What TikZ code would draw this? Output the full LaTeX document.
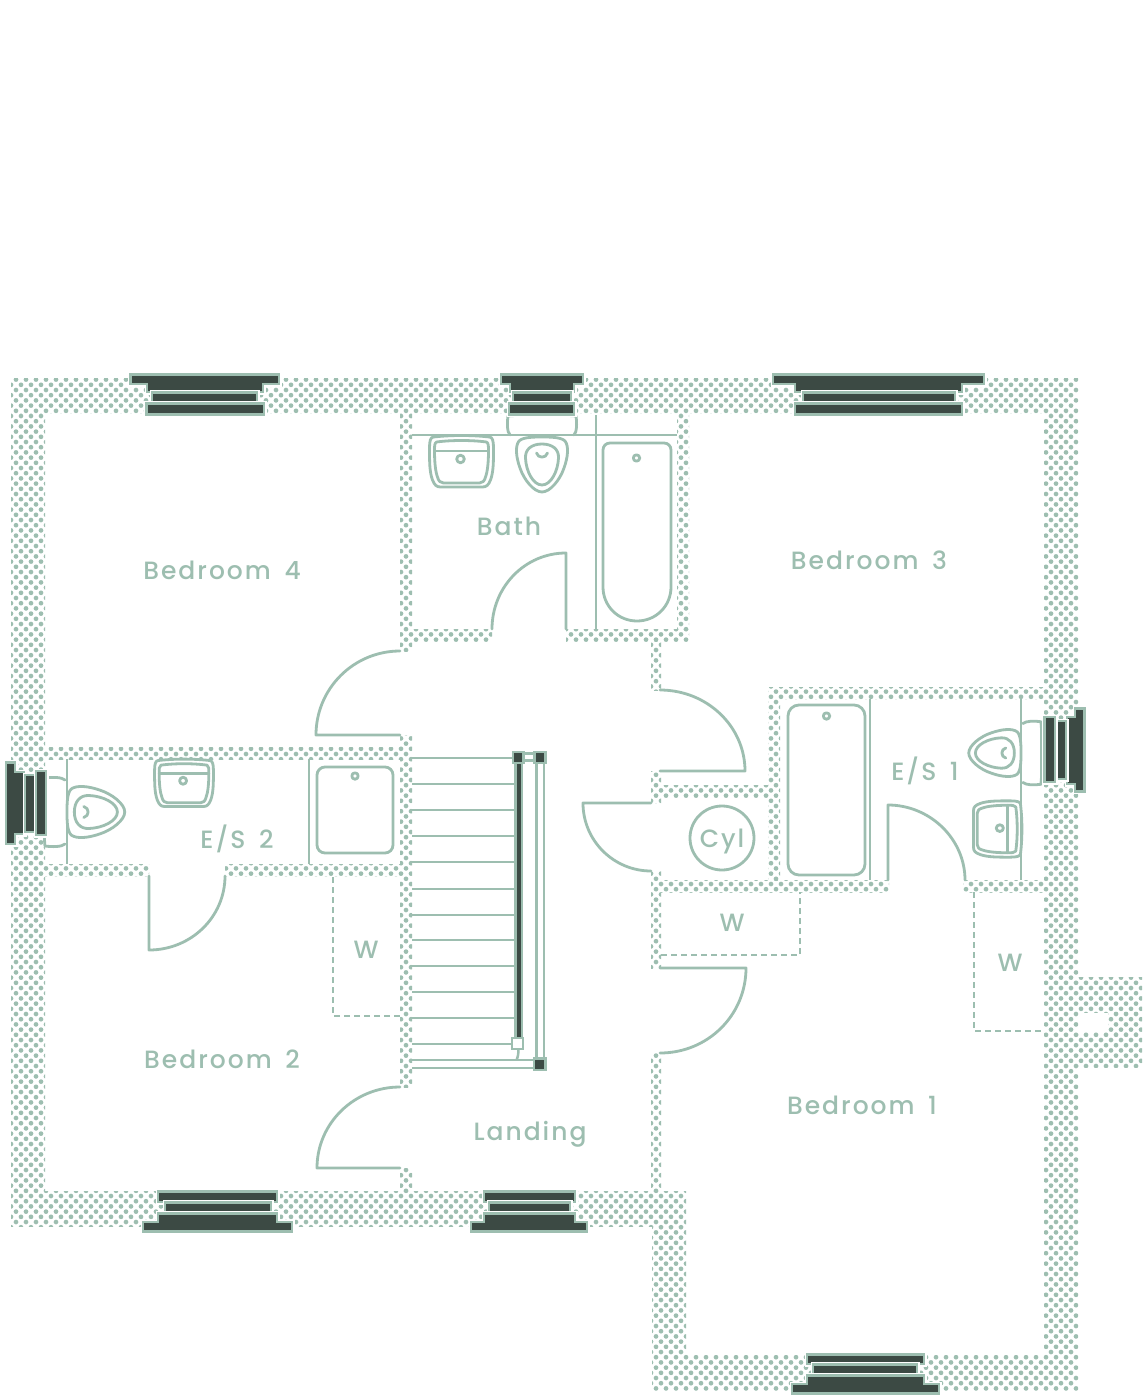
\documentclass[tikz,border=0pt]{standalone}
\usepackage{fontspec}
\setmainfont{Poppins}
\newfontfamily\labelfont[LetterSpace=8,WordSpace=1.6,UprightFont={* Medium}]{Poppins}
\usetikzlibrary{calc}
\definecolor{sage}{HTML}{9DBEB0}
\definecolor{slate}{HTML}{3C4A44}
\tikzset{
  fix/.style={draw=sage,line width=2.8pt,line cap=round,line join=round},
  thin fix/.style={draw=sage,line width=2.5pt},
  dashline/.style={draw=sage,line width=2.4pt,dash pattern=on 6pt off 4pt},
  lab/.style={text=sage,anchor=base,inner sep=0pt,font=\labelfont\fontsize{25}{25}\selectfont},
}
\newcommand\wall[4]{%
  \begin{scope}
  \clip (#1,#2) rectangle (#3,#4);
  \pgfmathtruncatemacro\ra{floor(#2/5.2)-1}\pgfmathtruncatemacro\rb{ceil(#4/5.2)+1}
  \pgfmathtruncatemacro\ca{floor(#1/10)-1}\pgfmathtruncatemacro\cb{ceil(#3/10)+1}
  \foreach \r in {\ra,...,\rb}{%
    \pgfmathsetmacro\off{5*mod(\r,2)+1}\pgfmathsetmacro\yy{\r*5.2}
    \fill[sage] \foreach \c in {\ca,...,\cb}{(\c*10+\off,\yy) circle (2.35pt)};
  }
  \end{scope}}
% window pane: halo, then fill with outline
\newcommand\pane[1]{%
  \draw[white,line width=5pt,line join=miter] #1 -- cycle;
  \filldraw[fill=slate,draw=sage,line width=2.2pt,line join=miter] #1 -- cycle;}
% quarter arc: start, corner, end
\newcommand\qarc[3]{#1 .. controls ($#1!.5523!#2$) and ($#3!.5523!#2$) .. #3}
\newcommand\basin{%
  \draw[fix] (-28,-25) .. controls (-10,-27) and (10,-27) .. (28,-25)
     .. controls (31,-25) and (32,-21) .. (32,-14) .. controls (32,0) and (32,10) .. (29,18)
     .. controls (27,23) and (25,25) .. (21,25) -- (-21,25)
     .. controls (-25,25) and (-27,23) .. (-29,18) .. controls (-32,10) and (-32,0) .. (-32,-14)
     .. controls (-32,-21) and (-31,-25) .. (-28,-25) -- cycle;
  \draw[fix] (-25,-20) .. controls (-10,-22) and (10,-22) .. (25,-20)
     .. controls (27,-19) and (27,-16) .. (27,-11) .. controls (27,0) and (26,10) .. (24,15)
     .. controls (23,19) and (21,21) .. (18,21) -- (-18,21)
     .. controls (-21,21) and (-23,19) .. (-24,15) .. controls (-26,10) and (-27,0) .. (-27,-11)
     .. controls (-27,-16) and (-27,-19) .. (-25,-20) -- cycle;
  \draw[fix] (-27,-11) -- (27,-11);
  \draw[fix] (-1,-3) circle (3.8pt);}
\newcommand\closet{%
  \draw[fix] (0,0) .. controls (8,0) and (19,0) .. (23,4) .. controls (27,9) and (26,20) .. (22,31)
     .. controls (18,43) and (8,55) .. (0,55) .. controls (-8,55) and (-18,43) .. (-22,31)
     .. controls (-26,20) and (-27,9) .. (-23,4) .. controls (-19,0) and (-8,0) .. (0,0) -- cycle;
  \draw[fix] (0,7) .. controls (10,7) and (17,12) .. (16.5,21) .. controls (16,34) and (9,48) .. (0,48)
     .. controls (-9,48) and (-16,34) .. (-16.5,21) .. controls (-17,12) and (-10,7) .. (0,7) -- cycle;
  \draw[fix] (-5.5,16) .. controls (-4,21.5) and (4,21.5) .. (5.5,16);}
\newcommand\tank[1]{% half width
  \draw[fix] (-#1+3,-2) .. controls (-#1,-5) and (-#1,-14) .. (-#1+1,-21) -- (-#1+8,-21.5) -- (#1-8,-21.5) -- (#1-1,-21)
     .. controls (#1,-14) and (#1,-5) .. (#1-3,-2);}
\begin{document}
\begin{tikzpicture}[x=1pt,y=-1pt]
\useasboundingbox (0,0) rectangle (1148,1400);
\fill[white] (0,0) rectangle (1148,1400);
% ---------- walls
\wall{11}{378}{1078}{413}
\wall{11}{413}{45}{1226}
\wall{1044}{413}{1078}{1390}
\wall{45}{1191}{686}{1226}
\wall{652}{1226}{686}{1390}
\wall{686}{1355}{1044}{1390}
\wall{1078}{977}{1142}{1012}
\wall{1078}{1032}{1142}{1067}
\wall{1108}{1012}{1142}{1032}
\wall{400}{413}{412}{651}
\wall{400}{735}{412}{1087}
\wall{400}{1168}{412}{1191}
\wall{412}{629}{492}{641}
\wall{566}{629}{689}{641}
\wall{677}{413}{689}{629}
\wall{651}{641}{661}{690}
\wall{651}{771}{661}{803}
\wall{651}{871}{661}{968}
\wall{651}{1053}{661}{1191}
\wall{661}{785}{768}{797}
\wall{661}{880}{889}{892}
\wall{963}{880}{1044}{892}
\wall{768}{687}{780}{880}
\wall{780}{687}{1044}{699}
\wall{45}{747}{400}{759}
\wall{45}{864}{149}{876}
\wall{225}{864}{400}{876}
% ---------- room partitions
\draw[thin fix] (412,435) -- (677,435);
\draw[thin fix] (596,415) -- (596,629);
\draw[thin fix] (67,759) -- (67,864);
\draw[thin fix] (309,759) -- (309,864);
\draw[thin fix] (870,699) -- (870,880);
\draw[thin fix] (1021,699) -- (1021,880);
% ---------- doors
\draw[fix] \qarc{(400,651)}{(316,651)}{(316,735)} -- (400,735);
\draw[fix] (566,629) -- (566,553) .. controls (525,553) and (492,587) .. (492,629);
\draw[fix] (149,876) -- (149,950) .. controls (191,950) and (225,917) .. (225,876);
\draw[fix] \qarc{(400,1087)}{(317,1087)}{(317,1168)} -- (400,1168);
\draw[fix] \qarc{(660,690)}{(745,690)}{(745,771)} -- (660,771);
\draw[fix] (651,803) -- (583,803) .. controls (583,841) and (614,871) .. (651,871);
\draw[fix] (660,968) -- (746,968) .. controls (746,1015) and (708,1053) .. (660,1053);
\draw[fix] (888,880) -- (888,805) .. controls (930,805) and (965,839) .. (965,880);
% ---------- wardrobes
\draw[dashline] (333,877) -- (333,1016) -- (400,1016);
\draw[dashline] (661,955) -- (800,955) -- (800,892);
\draw[dashline] (974,892) -- (974,1031) -- (1044,1031);
% ---------- bath room
\begin{scope}[shift={(461.5,462)}]\basin\end{scope}
\begin{scope}[shift={(542,437)}]\closet\tank{35}\end{scope}
\draw[fix] (603,450) .. controls (603,446) and (606,443) .. (610,443) -- (664,443)
   .. controls (668,443) and (671,446) .. (671,450) -- (671,587)
   .. controls (671,606) and (656,621) .. (637,621) .. controls (618,621) and (603,606) .. (603,587) -- cycle;
\draw[fix] (636.5,458) circle (3.2pt);
% ---------- E/S 2
\begin{scope}[shift={(184,783.5)},xscale=.92,yscale=.92]\basin\end{scope}
\begin{scope}[shift={(67,812)},rotate=90,yscale=1.05]\closet\tank{35}\end{scope}
\draw[fix,rounded corners=8pt] (317,767) rectangle (393,853);
\draw[fix] (355,776) circle (3.2pt);
% ---------- E/S 1
\draw[fix,rounded corners=11pt] (788,705) rectangle (865,875);
\draw[fix] (826.5,716) circle (3.2pt);
\begin{scope}[shift={(997,829)},rotate=-90,xscale=.88,yscale=.94]\basin\end{scope}
\begin{scope}[shift={(1021,753)},rotate=-90,xscale=.92,yscale=.95]\closet\tank{35}\end{scope}
% ---------- cylinder
\node[circle,fix,minimum size=64pt,inner sep=0pt] (cyl) at (722,838) {};
% ---------- stairs
\foreach \yy in {758,784,810,836,862,889,915,940,966,992,1018,1044}{\draw[thin fix] (412,\yy) -- (514,\yy);}
\draw[thin fix] (412,1060) -- (534,1060);
\draw[thin fix] (412,1068) -- (534,1068);
\draw[thin fix] (536.5,762) -- (536.5,1058);
\draw[thin fix] (544,762) -- (544,1058);
\draw[thin fix] (524,753.5) -- (534,753.5);
\draw[thin fix] (524,760.5) -- (534,760.5);
\filldraw[fill=slate,draw=sage,line width=2.4pt] (515.5,763) rectangle (522,1038);
\filldraw[fill=white,draw=sage,line width=2.4pt] (512,1038) rectangle (523,1049);
\draw[thin fix] (518.5,1049) .. controls (518.5,1053) and (518,1057) .. (516.5,1060);
\filldraw[fill=slate,draw=sage,line width=2.4pt] (513,752) rectangle (523.5,763);
\filldraw[fill=slate,draw=sage,line width=2.4pt] (534.5,752) rectangle (545.5,763);
\filldraw[fill=slate,draw=sage,line width=2.4pt] (534,1058.5) rectangle (545.5,1070);
% ---------- windows: top
\pane{(130.5,374.5) -- (279,374.5) -- (279,384) -- (263,384) -- (263,392) -- (147,392) -- (147,384) -- (130.5,384)}
\pane{(152,392.5) -- (257,392.5) -- (257,403) -- (152,403)}
\pane{(146.5,403.5) -- (264,403.5) -- (264,414.5) -- (146.5,414.5)}
\pane{(501,374.5) -- (583,374.5) -- (583,384) -- (574,384) -- (574,392) -- (510,392) -- (510,384) -- (501,384)}
\pane{(513,392.5) -- (571,392.5) -- (571,403) -- (513,403)}
\pane{(509,403.5) -- (574,403.5) -- (574,414.5) -- (509,414.5)}
\pane{(773,374.5) -- (984,374.5) -- (984,384) -- (962,384) -- (962,392) -- (795,392) -- (795,384) -- (773,384)}
\pane{(803,392.5) -- (955,392.5) -- (955,403) -- (803,403)}
\pane{(795,403.5) -- (962,403.5) -- (962,414.5) -- (795,414.5)}
% ---------- windows: bottom
\pane{(158,1191.5) -- (277,1191.5) -- (277,1202) -- (158,1202)}
\pane{(165,1202.5) -- (271,1202.5) -- (271,1213) -- (165,1213)}
\pane{(158,1213.5) -- (277,1213.5) -- (277,1222) -- (292,1222) -- (292,1231.5) -- (143,1231.5) -- (143,1222) -- (158,1222)}
\pane{(484,1191.5) -- (575,1191.5) -- (575,1202) -- (484,1202)}
\pane{(489,1202.5) -- (570,1202.5) -- (570,1213) -- (489,1213)}
\pane{(484,1213.5) -- (575,1213.5) -- (575,1222) -- (587,1222) -- (587,1231.5) -- (471,1231.5) -- (471,1222) -- (484,1222)}
\pane{(807,1354.5) -- (924,1354.5) -- (924,1364) -- (807,1364)}
\pane{(813,1364.5) -- (917,1364.5) -- (917,1375) -- (813,1375)}
\pane{(807,1375.5) -- (924,1375.5) -- (924,1384) -- (939,1384) -- (939,1393.5) -- (792,1393.5) -- (792,1384) -- (807,1384)}
% ---------- windows: sides
\pane{(6,762.5) -- (15,762.5) -- (15,772) -- (24,772) -- (24,834) -- (15,834) -- (15,844) -- (6,844)}
\pane{(25,775) -- (35,775) -- (35,832) -- (25,832)}
\pane{(36,771) -- (46,771) -- (46,835) -- (36,835)}
\pane{(1075,708.5) -- (1084.5,708.5) -- (1084.5,791.5) -- (1075,791.5) -- (1075,784) -- (1067,784) -- (1067,717) -- (1075,717)}
\pane{(1056,721) -- (1066,721) -- (1066,779) -- (1056,779)}
\pane{(1044.5,717) -- (1055,717) -- (1055,782) -- (1044.5,782)}
% ---------- labels
\node[lab] (bed4) at (222,579) {Bedroom 4};
\node[lab] (bath) at (509,535) {Bath};
\node[lab] (bed3) at (869,569) {Bedroom 3};
\node[lab] (es2) at (237,848) {E/S 2};
\node[lab] (es1) at (925,780) {E/S 1};
\node[lab] (w1) at (366,958) {W};
\node[lab] (w2) at (732,931) {W};
\node[lab] (w3) at (1010,971) {W};
\node[lab] (cyltext) at (722,847) {Cyl};
\node[lab] (bed2) at (222,1068) {Bedroom 2};
\node[lab] (land) at (530,1140) {Landing};
\node[lab] (bed1) at (862,1114) {Bedroom 1};
\end{tikzpicture}
\end{document}
